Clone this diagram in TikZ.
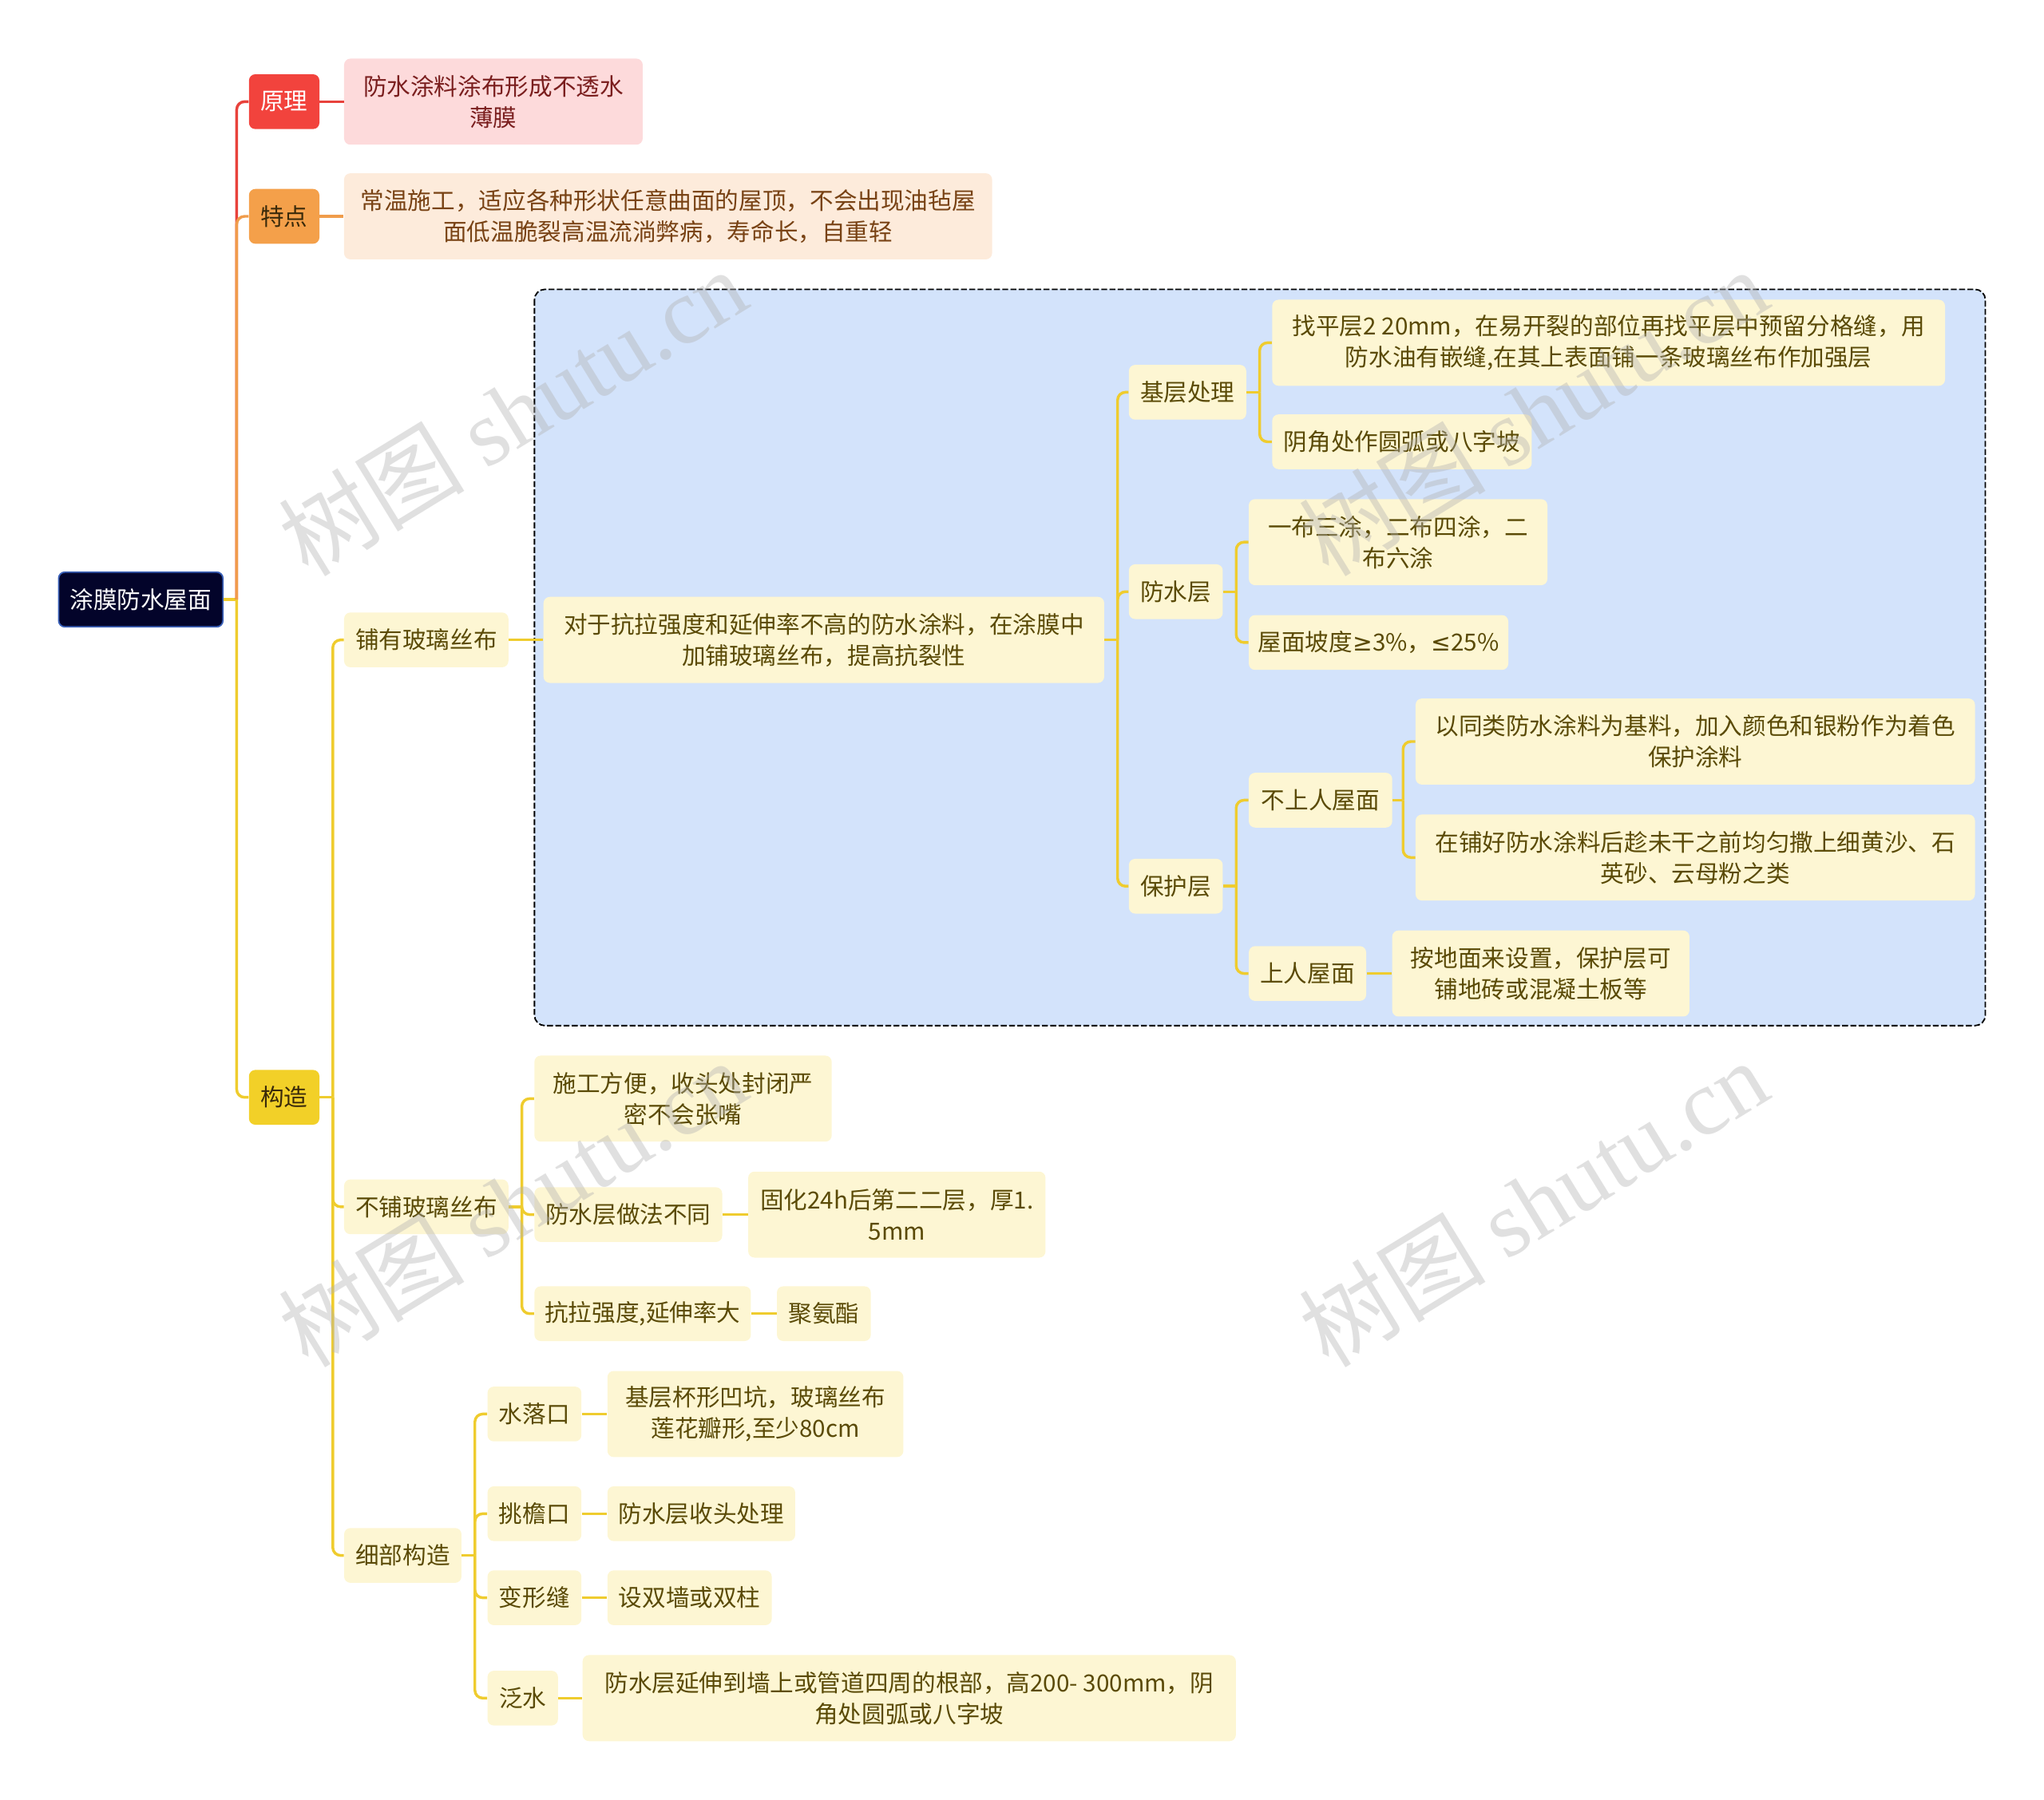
\documentclass[tikz,border=0pt]{standalone}
\usepackage{fontspec}
\setmainfont{Noto Sans CJK SC}
\newfontfamily\marklatin{Liberation Serif}
\newfontfamily\signfont{DejaVu Sans}
\definecolor{roofNavy}{RGB}{3, 4, 42}
\definecolor{roofNavyEdge}{RGB}{58, 96, 184}
\definecolor{roofRed}{RGB}{242, 67, 61}
\definecolor{roofOrange}{RGB}{244, 160, 74}
\definecolor{roofYellow}{RGB}{242, 208, 40}
\definecolor{roofLightRed}{RGB}{253, 218, 219}
\definecolor{roofPeach}{RGB}{253, 235, 219}
\definecolor{roofCream}{RGB}{253, 246, 211}
\definecolor{roofBlue}{RGB}{211, 227, 251}
\definecolor{roofDarkRed}{RGB}{122, 30, 30}
\definecolor{roofBrown}{RGB}{120, 66, 20}
\definecolor{roofOlive}{RGB}{90, 74, 6}
\definecolor{roofInk}{RGB}{58, 42, 10}
\definecolor{roofLineRed}{RGB}{232, 66, 60}
\definecolor{roofLineOrange}{RGB}{240, 156, 75}
\definecolor{roofLineYellow}{RGB}{239, 204, 46}

\begin{document}
\begin{tikzpicture}[
  x=0.025cm, y=-0.025cm,
  topic/.style={
    rounded corners=0.12cm,
    inner sep=0pt,
    minimum height=1.05cm,
    align=center,
    font=\fontsize{12.9}{17}\selectfont
  },
  tall/.style={minimum height=1.65cm},
  rootbox/.style={topic,fill=roofNavy,draw=roofNavyEdge,line width=0.8pt,text=white},
  leaf/.style={topic,fill=roofCream,text=roofOlive},
  link/.style={line width=1.5pt,rounded corners=0.15cm,roofLineYellow},
  watermark/.style={rotate=31.5,text=gray!60,opacity=0.4,text opacity=0.4,font=\fontsize{51}{51}\selectfont}
]
  \useasboundingbox (0,0) rectangle (1568,1381);
  \draw[dash pattern=on 3.2pt off 1.3pt,line width=0.8pt,fill=roofBlue,rounded corners=0.2cm] (410,222) rectangle (1523,787);

  \node[rootbox,minimum width=3.15cm] (roof) at (108,460) {涂膜防水屋面};
  \node[topic,fill=roofRed,text=white,minimum width=1.35cm] (principle) at (218,78) {原理};
  \node[topic,fill=roofOrange,text=roofInk,minimum width=1.35cm] (feature) at (218,166) {特点};
  \node[topic,fill=roofYellow,text=roofInk,minimum width=1.35cm] (build) at (218,842) {构造};
  \node[topic,tall,fill=roofLightRed,text=roofDarkRed,minimum width=5.725cm] (principleText) at (378.5,78) {防水涂料涂布形成不透水\\薄膜};
  \node[topic,tall,fill=roofPeach,text=roofBrown,minimum width=12.425cm] (featureText) at (512.5,166) {常温施工，适应各种形状任意曲面的屋顶，不会出现油毡屋\\面低温脆裂高温流淌弊病，寿命长，自重轻};

  \node[leaf,minimum width=3.15cm] (glassYes) at (327,491) {铺有玻璃丝布};
  \node[leaf,minimum width=3.15cm] (glassNo) at (327,926) {不铺玻璃丝布};
  \node[leaf,minimum width=2.25cm] (detail) at (309,1193.5) {细部构造};

  \node[leaf,tall,minimum width=10.75cm] (glassWhy) at (632,491) {对于抗拉强度和延伸率不高的防水涂料，在涂膜中\\加铺玻璃丝布，提高抗裂性};
  \node[leaf,minimum width=2.25cm] (base) at (911,301) {基层处理};
  \node[leaf,minimum width=1.8cm] (proof) at (902,454) {防水层};
  \node[leaf,minimum width=1.8cm] (guard) at (902,680) {保护层};
  \node[leaf,tall,minimum width=12.9cm] (baseLevel) at (1234,263) {找平层2 20mm，在易开裂的部位再找平层中预留分格缝，用\\防水油有嵌缝,在其上表面铺一条玻璃丝布作加强层};
  \node[leaf,minimum width=4.975cm] (baseCorner) at (1075.5,339) {阴角处作圆弧或八字坡};
  \node[leaf,tall,minimum width=5.725cm] (proofCoats) at (1072.5,416) {一布三涂，二布四涂，二\\布六涂};
  \node[leaf,minimum width=4.975cm] (proofSlope) at (1057.5,493) {屋面坡度{\signfont ≥}3\%，{\signfont ≤}25\%};
  \node[leaf,minimum width=2.75cm] (guardNoWalk) at (1013,614) {不上人屋面};
  \node[leaf,minimum width=2.25cm] (guardWalk) at (1003,747) {上人屋面};
  \node[leaf,tall,minimum width=10.725cm] (paintCoat) at (1300.5,569) {以同类防水涂料为基料，加入颜色和银粉作为着色\\保护涂料};
  \node[leaf,tall,minimum width=10.725cm] (sandCoat) at (1300.5,658) {在铺好防水涂料后趁未干之前均匀撒上细黄沙、石\\英砂、云母粉之类};
  \node[leaf,tall,minimum width=5.7cm] (walkFloor) at (1182,747) {按地面来设置，保护层可\\铺地砖或混凝土板等};

  \node[leaf,tall,minimum width=5.7cm] (noGlassEase) at (524,843) {施工方便，收头处封闭严\\密不会张嘴};
  \node[leaf,minimum width=3.6cm] (noGlassLayer) at (482,932) {防水层做法不同};
  \node[leaf,tall,minimum width=5.7cm] (noGlassCure) at (688,932) {固化24h后第二二层，厚1.\\5mm};
  \node[leaf,minimum width=4.15cm] (noGlassStrong) at (493,1008) {抗拉强度,延伸率大};
  \node[leaf,minimum width=1.8cm] (noGlassPu) at (632,1008) {聚氨酯};

  \node[leaf,minimum width=1.8cm] (outlet) at (410,1085) {水落口};
  \node[leaf,tall,minimum width=5.675cm] (outletText) at (579.5,1085) {基层杯形凹坑，玻璃丝布\\莲花瓣形,至少80cm};
  \node[leaf,minimum width=1.8cm] (eave) at (410,1161.5) {挑檐口};
  \node[leaf,minimum width=3.6cm] (eaveText) at (538,1161.5) {防水层收头处理};
  \node[leaf,minimum width=1.8cm] (joint) at (410,1226) {变形缝};
  \node[leaf,minimum width=3.15cm] (jointText) at (529,1226) {设双墙或双柱};
  \node[leaf,minimum width=1.35cm] (flash) at (401,1303) {泛水};
  \node[leaf,tall,minimum width=12.525cm] (flashText) at (697.5,1303) {防水层延伸到墙上或管道四周的根部，高200- 300mm，阴\\角处圆弧或八字坡};

  \draw[link] (roof.east) -- ++(10,0) coordinate (roofFork);
  \draw[link,roofLineRed] (roofFork) |- (principle.west);
  \draw[link,roofLineOrange] (roofFork) |- (feature.west);
  \draw[link] (roofFork) |- (build.west);
  \draw[link,roofLineRed] (principle.east) -- (principleText.west);
  \draw[link,roofLineOrange] (feature.east) -- (featureText.west);

  \draw[link] (build.east) -- ++(10,0) coordinate (buildFork);
  \draw[link] (buildFork) |- (glassYes.west);
  \draw[link] (buildFork) |- (glassNo.west);
  \draw[link] (buildFork) |- (detail.west);

  \draw[link] (glassYes.east) -- (glassWhy.west);
  \draw[link] (glassWhy.east) -- ++(10,0) coordinate (whyFork);
  \draw[link] (whyFork) |- (base.west);
  \draw[link] (whyFork) |- (proof.west);
  \draw[link] (whyFork) |- (guard.west);
  \draw[link] (base.east) -- ++(10,0) coordinate (baseFork);
  \draw[link] (baseFork) |- (baseLevel.west);
  \draw[link] (baseFork) |- (baseCorner.west);
  \draw[link] (proof.east) -- ++(10,0) coordinate (proofFork);
  \draw[link] (proofFork) |- (proofCoats.west);
  \draw[link] (proofFork) |- (proofSlope.west);
  \draw[link] (guard.east) -- ++(10,0) coordinate (guardFork);
  \draw[link] (guardFork) |- (guardNoWalk.west);
  \draw[link] (guardFork) |- (guardWalk.west);
  \draw[link] (guardNoWalk.east) -- ++(8,0) coordinate (noWalkFork);
  \draw[link] (noWalkFork) |- (paintCoat.west);
  \draw[link] (noWalkFork) |- (sandCoat.west);
  \draw[link] (guardWalk.east) -- (walkFloor.west);

  \draw[link] (glassNo.east) -- ++(10,0) coordinate (noGlassFork);
  \draw[link] (noGlassFork) |- (noGlassEase.west);
  \draw[link] (noGlassFork) |- (noGlassLayer.west);
  \draw[link] (noGlassFork) |- (noGlassStrong.west);
  \draw[link] (noGlassLayer.east) -- (noGlassCure.west);
  \draw[link] (noGlassStrong.east) -- (noGlassPu.west);

  \draw[link] (detail.east) -- ++(10,0) coordinate (detailFork);
  \draw[link] (detailFork) |- (outlet.west);
  \draw[link] (detailFork) |- (eave.west);
  \draw[link] (detailFork) |- (joint.west);
  \draw[link] (detailFork) |- (flash.west);
  \draw[link] (outlet.east) -- (outletText.west);
  \draw[link] (eave.east) -- (eaveText.west);
  \draw[link] (joint.east) -- (jointText.west);
  \draw[link] (flash.east) -- (flashText.west);

  \node[watermark] (markA) at (393,316) {树图 {\marklatin shutu.cn}};
  \node[watermark] (markB) at (1176,316) {树图 {\marklatin shutu.cn}};
  \node[watermark] (markC) at (393,923) {树图 {\marklatin shutu.cn}};
  \node[watermark] (markD) at (1176,923) {树图 {\marklatin shutu.cn}};
\end{tikzpicture}
\end{document}
